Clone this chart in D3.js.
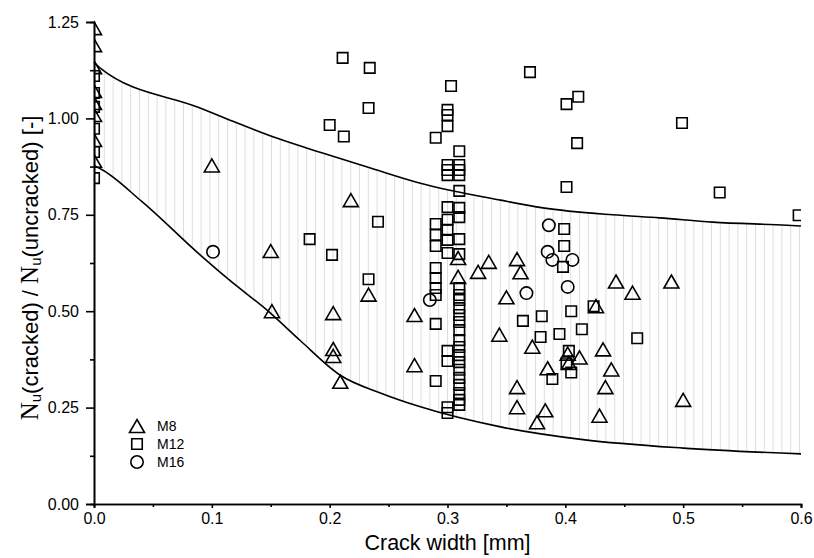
<!DOCTYPE html>
<html>
<head>
<meta charset="utf-8">
<script src="https://cdnjs.cloudflare.com/ajax/libs/d3/7.8.5/d3.min.js"></script>
<style>
  body { margin: 0; background: #fff; }
  text { font-family: Arial, "Liberation Sans", sans-serif; fill: #000; }
</style>
</head>
<body>
<svg id="chart"></svg>
<script>
// data
var m8Points = [
    [0, 1.234], [0, 1.190], [0, 1.133], [0, 1.071], [0, 1.040], [0, 1.009], [0, 0.944], [0, 0.890],
    [0.100, 0.878], [0.150, 0.656], [0.151, 0.500], [0.218, 0.788],
    [0.203, 0.495], [0.203, 0.402], [0.203, 0.384], [0.209, 0.317], [0.233, 0.543],
    [0.272, 0.490], [0.272, 0.360],
    [0.309, 0.638], [0.309, 0.589], [0.326, 0.602], [0.335, 0.628], [0.344, 0.439],
    [0.359, 0.635], [0.362, 0.601], [0.350, 0.536], [0.372, 0.408], [0.385, 0.352],
    [0.359, 0.303], [0.359, 0.251], [0.383, 0.243], [0.376, 0.212],
    [0.402, 0.390], [0.403, 0.366], [0.412, 0.380], [0.432, 0.401], [0.439, 0.349],
    [0.434, 0.303], [0.429, 0.229], [0.443, 0.577], [0.457, 0.548], [0.490, 0.577],
    [0.500, 0.270], [0.426, 0.513]
];

var m12Points = [
    [0, 1.110], [0, 1.066], [0, 1.030], [0, 0.973], [0, 0.913], [0, 0.845],
    [0.183, 0.687], [0.200, 0.983], [0.202, 0.646], [0.211, 1.157], [0.212, 0.953],
    [0.233, 1.027], [0.233, 0.583], [0.234, 1.131], [0.241, 0.732],
    // column at 0.29
    [0.290, 0.950], [0.290, 0.726], [0.290, 0.698], [0.290, 0.669], [0.290, 0.612],
    [0.290, 0.586], [0.290, 0.560], [0.290, 0.542], [0.290, 0.467], [0.290, 0.319],
    // column at 0.30
    [0.303, 1.084], [0.300, 1.022], [0.300, 1.009], [0.300, 0.980], [0.300, 0.879],
    [0.300, 0.866], [0.300, 0.853], [0.300, 0.770], [0.300, 0.737], [0.300, 0.711],
    [0.300, 0.685], [0.300, 0.651], [0.300, 0.397], [0.300, 0.371], [0.300, 0.251],
    [0.300, 0.236],
    // column at 0.31
    [0.310, 0.915], [0.310, 0.879], [0.310, 0.866], [0.310, 0.853], [0.310, 0.812],
    [0.310, 0.768], [0.310, 0.744], [0.310, 0.687], [0.310, 0.648], [0.310, 0.560],
    [0.310, 0.542], [0.310, 0.529], [0.310, 0.508], [0.310, 0.490], [0.310, 0.472],
    [0.310, 0.451], [0.310, 0.425], [0.310, 0.407], [0.310, 0.386], [0.310, 0.368],
    [0.310, 0.348], [0.310, 0.327], [0.310, 0.309], [0.310, 0.288], [0.310, 0.270],
    [0.310, 0.257],
    [0.364, 0.475], [0.370, 1.120], [0.379, 0.433], [0.380, 0.487], [0.389, 0.324],
    [0.395, 0.441], [0.398, 0.615], [0.399, 0.713], [0.399, 0.669], [0.401, 0.822],
    [0.401, 1.037], [0.401, 0.365], [0.403, 0.397], [0.405, 0.500], [0.405, 0.341],
    [0.411, 1.056], [0.410, 0.936], [0.414, 0.453], [0.424, 0.513], [0.461, 0.430],
    [0.499, 0.988], [0.531, 0.808], [0.598, 0.749]
];

var m16Points = [
    [0.101, 0.654], [0.285, 0.529], [0.367, 0.547], [0.386, 0.723], [0.385, 0.654],
    [0.389, 0.633], [0.406, 0.633], [0.402, 0.563]
];

var upperBound = [
    [0, 1.146], [0.005, 1.131], [0.090, 1.027], [0.115, 0.996], [0.155, 0.949],
    [0.194, 0.910], [0.232, 0.874], [0.277, 0.832], [0.345, 0.788], [0.381, 0.768],
    [0.440, 0.750], [0.480, 0.742], [0.525, 0.731], [0.588, 0.723], [0.600, 0.721]
];

var lowerBound = [
    [0, 0.877], [0.005, 0.870], [0.040, 0.786], [0.090, 0.646], [0.114, 0.583],
    [0.149, 0.497], [0.175, 0.424], [0.209, 0.334], [0.243, 0.288], [0.277, 0.252],
    [0.345, 0.200], [0.415, 0.167], [0.500, 0.145], [0.600, 0.130]
];

var xTicks = [0, 0.1, 0.2, 0.3, 0.4, 0.5, 0.6];
var yTicks = [0, 0.25, 0.5, 0.75, 1.0, 1.25];
var legendItems = ['M8', 'M12', 'M16'];

var width = 814,
    height = 558,
    margin = { top: 22, right: 13, bottom: 54, left: 94 };

var svg = d3.select('#chart')
    .attr('width', width)
    .attr('height', height);

var x = d3.scaleLinear()
    .domain([0, 0.6])
    .range([margin.left, width - margin.right]);

var y = d3.scaleLinear()
    .domain([0, 1.25])
    .range([height - margin.bottom, margin.top]);

var defs = svg.append('defs');

defs.append('clipPath')
    .attr('id', 'plot-clip')
    .append('rect')
    .attr('x', x(0))
    .attr('y', 0)
    .attr('width', x(0.6) - x(0))
    .attr('height', y(0));

// vertical hatch for the band
var hatch = defs.append('pattern')
    .attr('id', 'hatch')
    .attr('patternUnits', 'userSpaceOnUse')
    .attr('x', x(0) + 1)
    .attr('y', 0)
    .attr('width', 8.8)
    .attr('height', 10);

hatch.append('rect')
    .attr('width', 8.8)
    .attr('height', 10)
    .attr('fill', '#fff');

hatch.append('line')
    .attr('x1', 0.5).attr('x2', 0.5)
    .attr('y1', 0).attr('y2', 10)
    .attr('stroke', '#dedede')
    .attr('stroke-width', 1);

var line = d3.line()
    .curve(d3.curveMonotoneX)
    .x(function (d) { return x(d[0]); })
    .y(function (d) { return y(d[1]); });

// band between the two bounds
var bandPath = line(upperBound) + 'L' + line(lowerBound.slice().reverse()).slice(1) + 'Z';

svg.append('path')
    .attr('d', bandPath)
    .attr('fill', 'url(#hatch)')
    .attr('stroke', 'none');

svg.append('path')
    .attr('d', line(upperBound))
    .attr('fill', 'none')
    .attr('stroke', '#000')
    .attr('stroke-width', 1.6);

svg.append('path')
    .attr('d', line(lowerBound))
    .attr('fill', 'none')
    .attr('stroke', '#000')
    .attr('stroke-width', 1.6);

// marker shapes
function trianglePath() {
    var w = 15, h = 13;
    return 'M0,' + (-h / 2) + 'L' + (w / 2) + ',' + (h / 2) + 'L' + (-w / 2) + ',' + (h / 2) + 'Z';
}
function squarePath() {
    var s = 10.5;
    return 'M' + (-s / 2) + ',' + (-s / 2) + 'h' + s + 'v' + s + 'h' + (-s) + 'Z';
}
function circlePath() {
    var r = 6.2;
    return 'M' + r + ',0A' + r + ',' + r + ' 0 1,1 ' + (-r) + ',0A' + r + ',' + r + ' 0 1,1 ' + r + ',0Z';
}

var markers = svg.append('g')
    .attr('clip-path', 'url(#plot-clip)')
    .attr('fill', 'none')
    .attr('stroke', '#000')
    .attr('stroke-width', 1.6);

function drawSeries(data, shape) {
    markers.append('g')
        .selectAll('path')
        .data(data)
        .enter().append('path')
        .attr('transform', function (d) { return 'translate(' + x(d[0]) + ',' + y(d[1]) + ')'; })
        .attr('d', shape);
}

drawSeries(m12Points, squarePath);
drawSeries(m8Points, trianglePath);
drawSeries(m16Points, circlePath);

// axes
var xAxis = d3.axisBottom(x)
    .tickValues(xTicks)
    .tickSize(4)
    .tickPadding(5)
    .tickFormat(d3.format('.1f'));

var xMinor = d3.axisBottom(x)
    .tickValues(d3.range(0.05, 0.6, 0.1))
    .tickSize(3)
    .tickFormat('');

var yAxis = d3.axisLeft(y)
    .tickValues(yTicks)
    .tickSize(8)
    .tickPadding(7)
    .tickFormat(d3.format('.2f'));

var yMinor = d3.axisLeft(y)
    .tickValues(d3.range(0.125, 1.25, 0.25))
    .tickSize(4)
    .tickFormat('');

function styleAxis(g) {
    g.select('.domain').attr('stroke', '#000').attr('stroke-width', 1.6);
    g.selectAll('.tick line').attr('stroke', '#000').attr('stroke-width', 1.6);
    g.selectAll('.tick text')
        .attr('font-family', 'Arial, "Liberation Sans", sans-serif')
        .attr('font-size', 16)
        .attr('fill', '#000');
}

svg.append('g')
    .attr('transform', 'translate(0,' + y(0) + ')')
    .call(xMinor)
    .call(styleAxis);

svg.append('g')
    .attr('transform', 'translate(0,' + y(0) + ')')
    .call(xAxis)
    .call(styleAxis);

svg.append('g')
    .attr('transform', 'translate(' + x(0) + ',0)')
    .call(yMinor)
    .call(styleAxis);

svg.append('g')
    .attr('transform', 'translate(' + x(0) + ',0)')
    .call(yAxis)
    .call(styleAxis);

// axis titles
svg.append('text')
    .attr('x', (x(0) + x(0.6)) / 2)
    .attr('y', 550)
    .attr('text-anchor', 'middle')
    .attr('font-size', 21.5)
    .text('Crack width [mm]');

var yTitle = svg.append('text')
    .attr('transform', 'translate(38,' + ((y(0) + y(1.25)) / 2 + 5) + ') rotate(-90)')
    .attr('text-anchor', 'middle')
    .attr('font-size', 22);

yTitle.append('tspan').attr('font-family', '"Liberation Serif", "Times New Roman", serif').attr('font-size', 25).text('N');
yTitle.append('tspan').attr('font-size', 15).attr('dy', 3).text('u');
yTitle.append('tspan').attr('dy', -3).text('(cracked) / ');
yTitle.append('tspan').attr('font-family', '"Liberation Serif", "Times New Roman", serif').attr('font-size', 25).text('N');
yTitle.append('tspan').attr('font-size', 15).attr('dy', 3).text('u');
yTitle.append('tspan').attr('dy', -3).text('(uncracked) [-]');

// legend
var legendShapes = [trianglePath, squarePath, circlePath];
var legend = svg.append('g')
    .attr('transform', 'translate(137,426)');

var legendRow = legend.selectAll('g')
    .data(legendItems)
    .enter().append('g')
    .attr('transform', function (d, i) { return 'translate(0,' + (i * 18) + ')'; });

legendRow.append('path')
    .attr('d', function (d, i) { return legendShapes[i](); })
    .attr('fill', 'none')
    .attr('stroke', '#000')
    .attr('stroke-width', 1.6);

legendRow.append('text')
    .attr('x', 20)
    .attr('y', 5)
    .attr('font-size', 14)
    .text(function (d) { return d; });
</script>
</body>
</html>
